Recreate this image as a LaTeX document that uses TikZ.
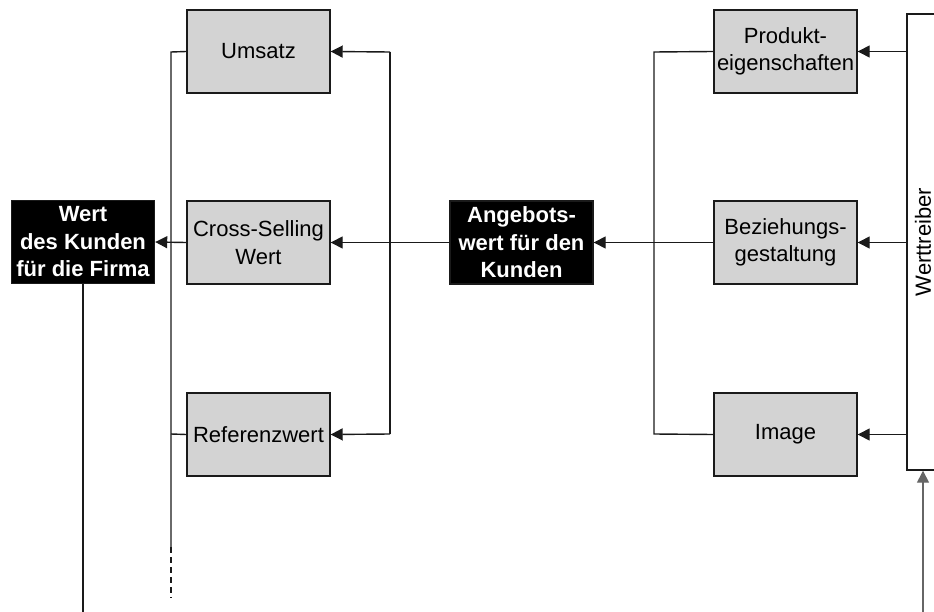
\documentclass[tikz,border=0pt]{standalone}
\usepackage{fontspec}
\setmainfont{Liberation Sans}
\usetikzlibrary{arrows.meta}
\definecolor{boxgray}{HTML}{D3D3D3}
\definecolor{linegray}{HTML}{1A1A1A}
\tikzset{
  graybox/.style={draw=linegray, line width=1.4pt, fill=boxgray, minimum width=143pt, minimum height=83pt,
    inner sep=0pt, align=center, font=\fontsize{22}{27.5}\selectfont},
  blackbox/.style={draw=linegray, line width=1.4pt, fill=black, text=white, minimum width=143pt, minimum height=83pt,
    inner sep=0pt, align=center, font=\fontsize{22}{27.5}\selectfont\bfseries},
  conn/.style={draw=linegray, line width=1.4pt},
  arr/.style={conn, -{Triangle[length=12pt,width=12pt]}},
}
\begin{document}
\begin{tikzpicture}[x=1pt,y=-1pt]
\useasboundingbox (0,0) rectangle (934,612);
\clip (0,0) rectangle (934,612);
% boxes
\node[blackbox] (wert) at (83,242) {Wert\\des Kunden\\für die Firma};
\node[graybox] (ums) at (258.5,51.5) {Umsatz};
\node[graybox] (cross) at (258.5,242.5) {Cross-Selling\\Wert};
\node[graybox] (ref) at (258.5,434.5) {Referenzwert};
\node[blackbox] (ang) at (521.5,242.5) {Angebots-\\wert für den\\Kunden};
\node[graybox] (prod) at (785.5,51.5) {Produkt-\\eigenschaften};
\node[graybox] (bez) at (785.5,242.5) {Beziehungs-\\gestaltung};
\node[graybox] (img) at (785.5,434.5) {Image};
\node[draw=linegray, line width=1.4pt, fill=white, minimum width=32pt, minimum height=456pt, inner sep=0pt,
  font=\fontsize{22}{26}\selectfont] (wt) at (923,242) {\rotatebox{90}{Werttreiber}};
% coordinates
\coordinate (lb1) at (171,52);
\coordinate (lb2) at (171,547);
\coordinate (lb3) at (171,598);
\coordinate (lbr) at (171,434);
\coordinate (rb1) at (390,52);
\coordinate (rb2) at (390,434);
\coordinate (pb1) at (654,52);
\coordinate (pb2) at (654,434);
\coordinate (wbot) at (83,612);
\coordinate (wtin) at (923,612);
% left bracket
\draw[conn] (ums.west) -- (lb1) -- (lb2);
\draw[conn, dash pattern=on 6pt off 4pt] (lb2) -- (lb3);
\draw[conn] (lbr) -- (ref.west);
\draw[arr] (cross.west) -- (wert.east);
\draw[conn] (wert.south) -- (wbot);
% right bracket of middle column
\draw[arr] (rb1) -- (ums.east);
\draw[conn] (rb1) -- (rb2);
\draw[arr] (rb2) -- (ref.east);
\draw[arr] (ang.west) -- (cross.east);
% right side
\draw[conn] (prod.west) -- (pb1) -- (pb2) -- (img.west);
\draw[arr] (bez.west) -- (ang.east);
\draw[arr] (wt.west |- prod.east) -- (prod.east);
\draw[arr] (wt.west |- bez.east) -- (bez.east);
\draw[arr] (wt.west |- img.east) -- (img.east);
\draw[arr, draw=black!60] (wtin) -- (wt.south);
\end{tikzpicture}
\end{document}
